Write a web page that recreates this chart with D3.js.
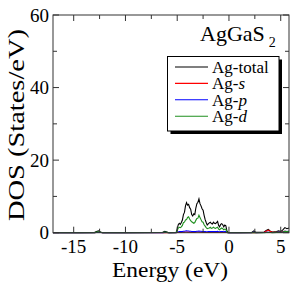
<!DOCTYPE html>
<html>
<head>
<meta charset="utf-8">
<script src="https://cdn.jsdelivr.net/npm/d3@7"></script>
<style>
  body { margin: 0; background: #fff; }
</style>
</head>
<body>
<svg id="chart" width="292" height="292"></svg>
<script>
// energy grid (eV) and partial DOS
var energy = [-17, -14.5, -13, -12.8, -12.6, -12.4, -12.2, -10, -8, -6.4, -6.2, -6.0, -5.8, -5.3, -5.1,
  -5.0, -4.9, -4.8, -4.7, -4.6, -4.5, -4.4, -4.3, -4.2, -4.1,
  -4.0, -3.9, -3.8, -3.7, -3.6, -3.5, -3.4, -3.3, -3.2, -3.1,
  -3.0, -2.9, -2.8, -2.7, -2.6, -2.5, -2.4, -2.3, -2.2, -2.1,
  -2.0, -1.9, -1.8, -1.7, -1.6, -1.5, -1.4, -1.3, -1.2, -1.1,
  -1.0, -0.9, -0.8, -0.7, -0.6, -0.5, -0.4, -0.3, -0.2, -0.1, 0,
  1.0, 2.2, 2.4, 2.6, 3.4, 3.6, 3.8, 4.0, 4.2, 4.6, 4.8, 5.0, 5.2, 5.4, 5.6, 5.8];

var agTotal = [0, 0, 0.05, 0.3, 0.5, 0.2, 0, 0, 0.05, 0.1, 0.4, 0.2, 0, 0.05, 0.1,
  1.0, 2.2, 2.6, 2.3, 2.8, 3.5, 5.0, 5.6, 7.4, 8.3,
  7.6, 7.8, 6.9, 6.5, 5.0, 4.6, 5.2, 5.0, 6.8, 8.0,
  8.4, 9.3, 8.0, 7.4, 6.6, 6.2, 4.8, 3.6, 2.8, 2.1,
  2.4, 2.7, 2.9, 2.5, 2.4, 2.9, 2.6, 2.5, 2.8, 3.1,
  2.0, 1.6, 2.3, 2.5, 2.2, 1.6, 2.1, 1.9, 0.5, 0.1, 0,
  0, 0.05, 0.5, 0.1, 0.2, 0.6, 0.9, 0.4, 0.2, 0.3, 0.5, 0.3, 0.8, 1.4, 1.1, 1.3];

var agS = [0, 0, 0, 0.05, 0.1, 0.05, 0, 0, 0, 0, 0.05, 0, 0, 0, 0,
  0.05, 0.1, 0.15, 0.1, 0.1, 0.15, 0.2, 0.15, 0.2, 0.2,
  0.15, 0.2, 0.15, 0.1, 0.1, 0.15, 0.1, 0.1, 0.15, 0.2,
  0.2, 0.2, 0.15, 0.15, 0.1, 0.1, 0.1, 0.1, 0.05, 0.05,
  0.1, 0.1, 0.1, 0.1, 0.1, 0.1, 0.1, 0.1, 0.1, 0.15,
  0.1, 0.1, 0.1, 0.15, 0.1, 0.1, 0.1, 0.1, 0.05, 0, 0,
  0, 0, 0.1, 0, 0.1, 0.4, 0.7, 0.3, 0.1, 0.1, 0.2, 0.1, 0.3, 0.4, 0.3, 0.3];

var agP = [0, 0, 0, 0.05, 0.1, 0.05, 0, 0, 0, 0, 0.1, 0.05, 0, 0, 0,
  0.1, 0.2, 0.3, 0.3, 0.3, 0.35, 0.4, 0.4, 0.45, 0.5,
  0.45, 0.45, 0.4, 0.4, 0.35, 0.35, 0.35, 0.3, 0.35, 0.4,
  0.4, 0.45, 0.4, 0.4, 0.35, 0.35, 0.3, 0.3, 0.25, 0.25,
  0.3, 0.3, 0.3, 0.3, 0.3, 0.3, 0.3, 0.3, 0.3, 0.35,
  0.25, 0.25, 0.3, 0.3, 0.3, 0.25, 0.3, 0.3, 0.1, 0, 0,
  0, 0, 0.2, 0, 0.05, 0.1, 0.1, 0.05, 0.05, 0.1, 0.15, 0.1, 0.2, 0.4, 0.3, 0.4];

var agD = [0, 0, 0, 0.15, 0.25, 0.1, 0, 0, 0, 0.05, 0.2, 0.1, 0, 0, 0.05,
  0.6, 1.3, 1.5, 1.4, 1.6, 2.0, 2.8, 2.9, 3.5, 3.6,
  4.2, 4.4, 3.8, 3.3, 3.0, 2.8, 2.6, 2.8, 3.4, 3.9,
  4.0, 4.8, 4.2, 3.6, 3.0, 2.9, 2.2, 1.8, 1.4, 1.1,
  1.2, 1.3, 1.5, 1.2, 1.3, 1.5, 1.3, 1.2, 1.4, 1.5,
  1.0, 0.8, 1.1, 1.3, 1.1, 0.8, 1.0, 0.9, 0.2, 0, 0,
  0, 0, 0.1, 0, 0, 0.05, 0.1, 0.05, 0, 0.1, 0.1, 0.1, 0.2, 0.4, 0.3, 0.4];

var seriesNames = ["Ag-total", "Ag-s", "Ag-p", "Ag-d"];
var seriesValues = [agTotal, agS, agP, agD];
var seriesColors = ["#000000", "#ff0000", "#0000ff", "#1f8f1f"];

var xTicks = [-15, -10, -5, 0, 5];
var xMinor = [-12.5, -7.5, -2.5, 2.5];
var yTicks = [0, 20, 40, 60];
var yMinor = [10, 30, 50];

var serif = "'Liberation Serif', 'Times New Roman', serif";

var svg = d3.select("#chart");

// plot box (window.top is read-only, so no bare "top")
var box = {left: 53, right: 289, top: 15, bottom: 232.7};

var x = d3.scaleLinear().domain([-17, 5.8]).range([box.left, box.right]);
var y = d3.scaleLinear().domain([0, 60]).range([box.bottom, box.top]);

// curves, green drawn last like the original
var line = d3.line()
    .x((d, i) => x(energy[i]))
    .y(d => y(d));

svg.append("g")
  .selectAll("path")
  .data(seriesValues)
  .join("path")
    .attr("d", d => line(d))
    .attr("fill", "none")
    .attr("stroke", (d, i) => seriesColors[i])
    .attr("stroke-width", 1.1);

// frame + inward ticks on all four sides
var frame = svg.append("g").attr("stroke", "#333").attr("stroke-width", 1);

frame.append("rect")
    .attr("x", box.left).attr("y", box.top)
    .attr("width", box.right - box.left).attr("height", box.bottom - box.top)
    .attr("fill", "none");

function xTick(v, len) {
  frame.append("line").attr("x1", x(v)).attr("x2", x(v)).attr("y1", box.bottom).attr("y2", box.bottom - len);
  frame.append("line").attr("x1", x(v)).attr("x2", x(v)).attr("y1", box.top).attr("y2", box.top + len);
}
function yTick(v, len) {
  frame.append("line").attr("y1", y(v)).attr("y2", y(v)).attr("x1", box.left).attr("x2", box.left + len);
  frame.append("line").attr("y1", y(v)).attr("y2", y(v)).attr("x1", box.right).attr("x2", box.right - len);
}
xTicks.forEach(v => xTick(v, 6));
xMinor.forEach(v => xTick(v, 4));
yTicks.forEach(v => yTick(v, 6));
yMinor.forEach(v => yTick(v, 4));

var labels = svg.append("g").style("font-family", serif).attr("fill", "#000");

labels.append("g")
  .selectAll("text")
  .data(xTicks)
  .join("text")
    .attr("x", d => x(d))
    .attr("y", 253)
    .attr("text-anchor", "middle")
    .style("font-size", "19px")
    .text(d => d);

labels.append("g")
  .selectAll("text")
  .data(yTicks)
  .join("text")
    .attr("x", 49)
    .attr("y", d => y(d) + 6.5)
    .attr("text-anchor", "end")
    .style("font-size", "19px")
    .text(d => d);

// axis titles
labels.append("text")
    .attr("x", 170)
    .attr("y", 277)
    .attr("text-anchor", "middle")
    .attr("textLength", 116)
    .attr("lengthAdjust", "spacingAndGlyphs")
    .style("font-size", "22px")
    .text("Energy (eV)");

labels.append("text")
    .attr("transform", "translate(23.5,125) rotate(-90)")
    .attr("text-anchor", "middle")
    .attr("textLength", 192)
    .attr("lengthAdjust", "spacingAndGlyphs")
    .style("font-size", "24px")
    .text("DOS (States/eV)");

// compound label
var title = labels.append("text")
    .attr("x", 200)
    .attr("y", 41)
    .style("font-size", "22px");
title.append("tspan").text("AgGaS");
title.append("tspan").attr("dx", 4).attr("dy", 5.5).style("font-size", "14px").text("2");

// legend with drop shadow
var legend = svg.append("g").style("font-family", serif);
legend.append("rect")
    .attr("x", 170.5).attr("y", 59.5)
    .attr("width", 111.5).attr("height", 74.5)
    .attr("fill", "#000");
legend.append("rect")
    .attr("x", 167.5).attr("y", 56.5)
    .attr("width", 111.5).attr("height", 74.5)
    .attr("fill", "#fff")
    .attr("stroke", "#000");

var rows = legend.selectAll("g.row")
  .data(seriesNames)
  .join("g")
    .attr("class", "row")
    .attr("transform", (d, i) => "translate(0," + (67 + i * 16.4) + ")");

rows.append("line")
    .attr("x1", 175).attr("x2", 208)
    .attr("stroke", (d, i) => seriesColors[i])
    .attr("stroke-width", 1.1);

rows.append("text")
    .attr("x", 212)
    .attr("y", 6)
    .style("font-size", "17px")
    .text(d => d.split("-")[0] + "-")
  .append("tspan")
    .style("font-style", d => d.endsWith("total") ? "normal" : "italic")
    .text(d => d.split("-")[1]);
</script>
</body>
</html>
